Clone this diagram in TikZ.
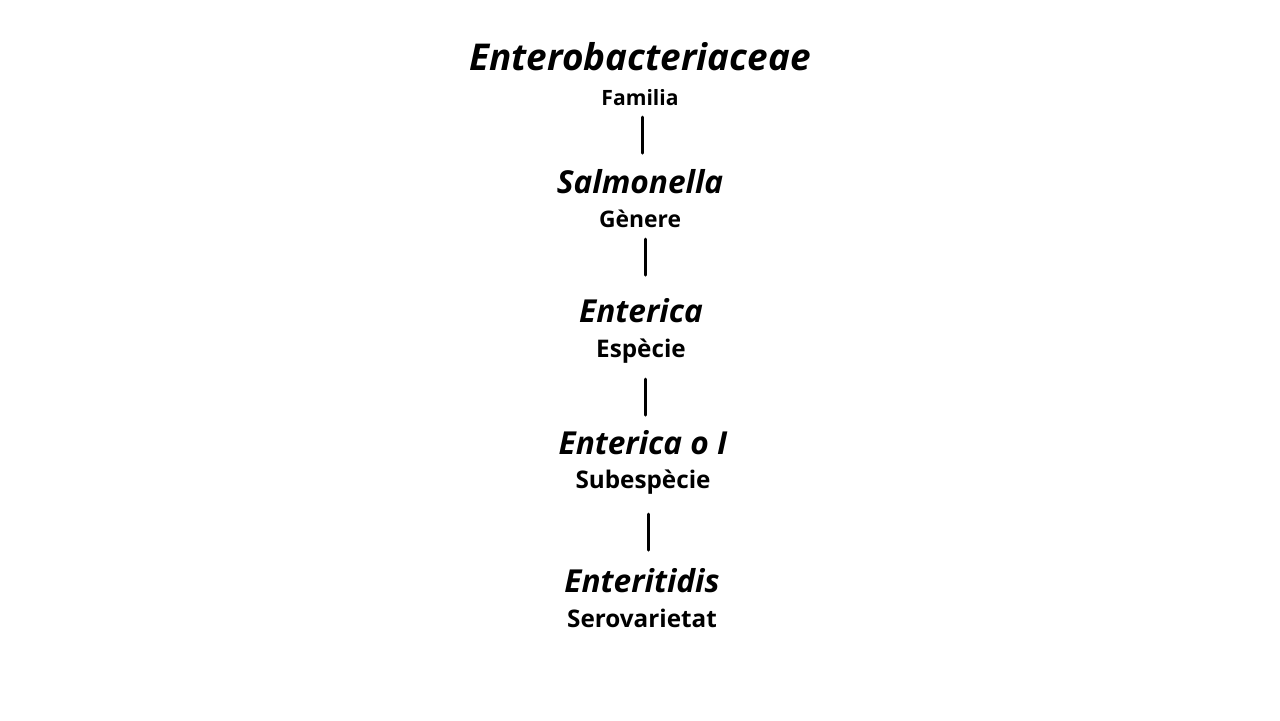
\documentclass[tikz,border=0pt]{standalone}
\usepackage{fontspec}
\setmainfont{Open Sans}
\begin{document}
\begin{tikzpicture}[x=0.01cm,y=-0.01cm,
  taxon/.style={anchor=base,inner sep=0pt,font=\fontsize{9}{11}\selectfont\bfseries\itshape},
  rank/.style={anchor=base,inner sep=0pt,font=\fontsize{6.9}{8}\selectfont\bfseries},
  link/.style={line width=0.85pt,line cap=round}]
\useasboundingbox[fill=white] (0,0) rectangle (1280,720);
\node[taxon,font=\fontsize{10.5}{12}\selectfont\bfseries\itshape] (t1) at (640,70) {Enterobacteriaceae};
\node[rank,font=\fontsize{6}{7}\selectfont\bfseries] (r1) at (640,105) {Familia};
\node[taxon] (t2) at (640,193) {Salmonella};
\node[rank,font=\fontsize{6.5}{7}\selectfont\bfseries] (r2) at (640,227) {Gènere};
\node[taxon] (t3) at (641,322) {Enterica};
\node[rank] (r3) at (641,357) {Espècie};
\node[taxon] (t4) at (643,454) {Enterica o I};
\node[rank] (r4) at (643,488) {Subespècie};
\node[taxon] (t5) at (642,592) {Enteritidis};
\node[rank] (r5) at (642,627) {Serovarietat};
\coordinate (a1) at (642,117); \coordinate (b1) at (642,153);
\coordinate (a2) at (645,239); \coordinate (b2) at (645,275);
\coordinate (a3) at (645,379); \coordinate (b3) at (645,415);
\coordinate (a4) at (648,514); \coordinate (b4) at (648,550);
\draw[link] (a1) -- (b1);
\draw[link] (a2) -- (b2);
\draw[link] (a3) -- (b3);
\draw[link] (a4) -- (b4);
\end{tikzpicture}
\end{document}
